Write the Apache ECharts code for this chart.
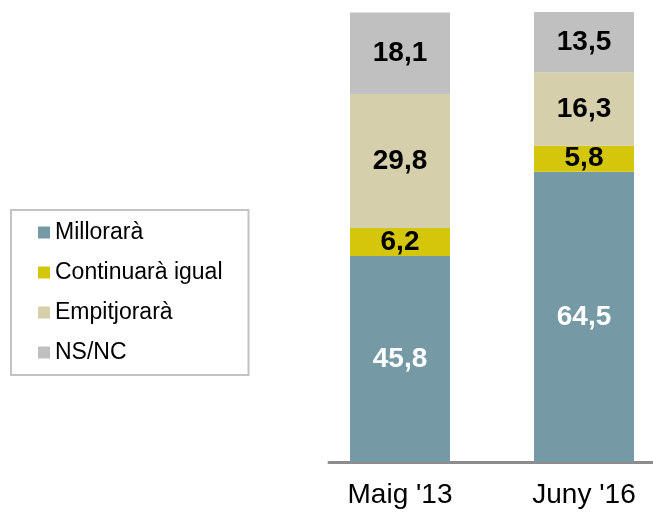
<!DOCTYPE html>
<html>
<head>
<meta charset="utf-8">
<script src="https://cdn.jsdelivr.net/npm/echarts@6/dist/echarts.min.js"></script>
<style>
  html, body { margin: 0; padding: 0; background: #fff; }
  #chart { width: 653px; height: 512px; }
</style>
</head>
<body>
<div id="chart"></div>
<script>
const categories = ["Maig '13", "Juny '16"];
const millorara = [45.8, 64.5];
const continuara = [6.2, 5.8];
const empitjorara = [29.8, 16.3];
const nsnc = [18.1, 13.5];

const font = "'Liberation Sans', Arial, sans-serif";

const seg = (name, data, color, labelColor) => ({
  name,
  type: "bar",
  stack: "total",
  data,
  barWidth: 100,
  itemStyle: { color },
  label: {
    show: true,
    position: "inside",
    color: labelColor,
    fontFamily: font,
    fontWeight: "bold",
    fontSize: 28,
    formatter: (p) => String(p.value).replace(".", ","),
  },
});

const chart = echarts.init(document.getElementById("chart"), null, { renderer: "canvas" });
chart.setOption({
  animation: false,
  textStyle: { fontFamily: font },
  legend: {
    orient: "vertical",
    left: 11,
    top: 210,
    data: ["Millorarà", "Continuarà igual", "Empitjorarà", "NS/NC"],
    icon: "rect",
    itemWidth: 12,
    itemHeight: 12,
    itemGap: 17,
    padding: [11, 26, 11, 27],
    borderColor: "#c3c3c3",
    borderWidth: 2,
    textStyle: { color: "#000", fontSize: 23, fontFamily: font },
  },
  // the bar grid runs past the right edge so the bars land where the original puts them;
  // the second grid only carries the baseline
  grid: [
    { left: 308, top: 12, width: 368, height: 450, outerBoundsMode: "none" },
    { left: 329, top: 12, right: 0, height: 450 },
  ],
  xAxis: [
    {
      type: "category",
      gridIndex: 0,
      data: categories,
      axisLine: { show: false },
      axisTick: { show: false },
      axisLabel: { color: "#000", fontSize: 28, fontFamily: font, margin: 19 },
    },
    {
      type: "category",
      gridIndex: 1,
      data: categories,
      axisLine: { show: true, lineStyle: { color: "#8c8c8c", width: 3 } },
      axisTick: { show: false },
      axisLabel: { show: false },
    },
  ],
  yAxis: [
    { type: "value", gridIndex: 0, min: 0, max: 100, show: false },
    { type: "value", gridIndex: 1, min: 0, max: 100, show: false },
  ],
  series: [
    seg("Millorarà", millorara, "#7599a5", "#fff"),
    seg("Continuarà igual", continuara, "#d4c60a", "#000"),
    seg("Empitjorarà", empitjorara, "#d6cfab", "#000"),
    seg("NS/NC", nsnc, "#c0c0c0", "#000"),
  ],
});
</script>
</body>
</html>
